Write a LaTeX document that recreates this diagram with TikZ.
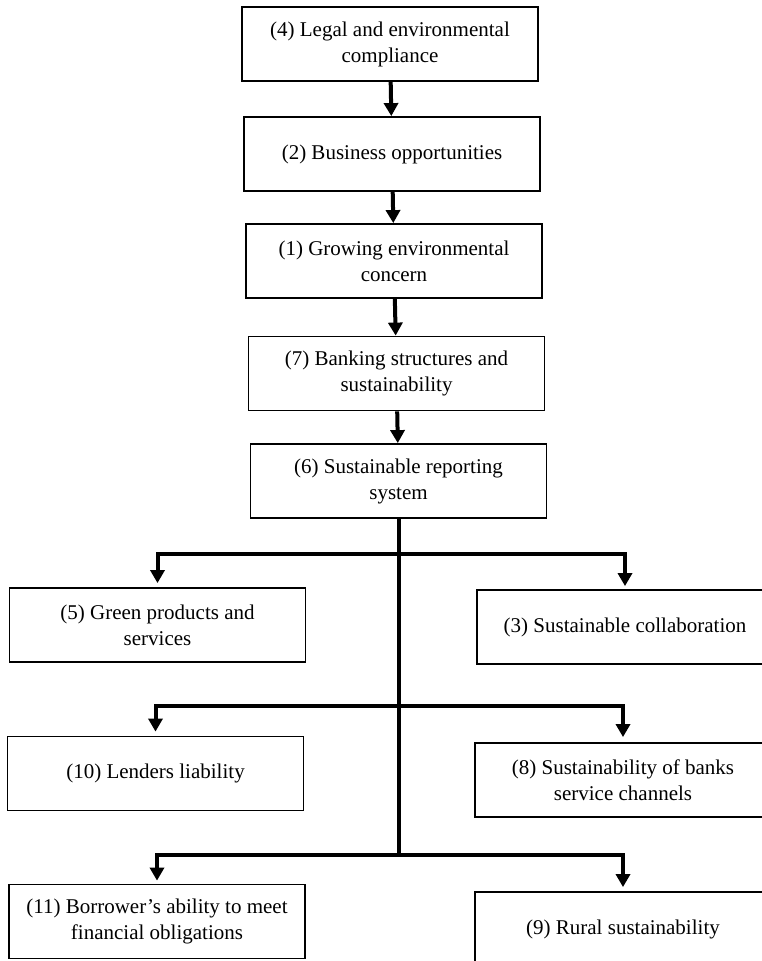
\documentclass[tikz,border=0pt]{standalone}
\usepackage{fontspec}
\setmainfont{Liberation Serif}
\usepackage{tikz}
\usetikzlibrary{arrows.meta, positioning, calc}

\begin{document}
\begin{tikzpicture}[x=1pt, y=-1pt,
        box/.style={draw=black, line width=1.8pt, minimum width=296pt, minimum height=74pt,
            inner sep=0pt, align=center, font=\fontsize{21}{26}\selectfont},
        flow/.style={line width=4pt, -{Triangle[width=14pt,length=13pt]}},
        trunk/.style={line width=4pt}]
    \useasboundingbox (0,0) rectangle (762,961);

    \node[box] (four)  at (390,44)    {(4) Legal and environmental\\compliance};
    \node[box] (two)   at (392,154)   {(2) Business opportunities};
    \node[box] (one)   at (394,261)   {(1) Growing environmental\\concern};
    \node[box] (seven) at (396.5,373.5) {(7) Banking structures and\\sustainability};
    \node[box] (six)   at (398.5,481) {(6) Sustainable reporting\\system};

    \node[box] (five)   at (157.5,625) {(5) Green products and\\services};
    \node[box] (three)  at (625,627)   {(3) Sustainable collaboration};
    \node[box] (ten)    at (155.5,773.5) {(10) Lenders liability};
    \node[box] (eight)  at (623,780)   {(8) Sustainability of banks\\service channels};
    \node[box] (eleven) at (157,921.5) {(11) Borrower’s ability to meet\\financial obligations};
    \node[box] (nine)   at (623,929)   {(9) Rural sustainability};

    \draw[flow] (four) -- (two);
    \draw[flow] (two) -- (one);
    \draw[flow] (one) -- (seven);
    \draw[flow] (seven) -- (six);

    % branches off the main trunk
    \coordinate (hubA) at ($(six.south)+(0,35)$);
    \coordinate (hubB) at ($(six.south)+(0,187)$);
    \coordinate (hubC) at ($(six.south)+(0,336)$);
    \draw[trunk] (six.south) -- (hubC);

    \draw[flow, shorten >=4pt] (hubA) -| (five.north);
    \draw[flow, shorten >=3pt] (hubA) -| (three.north);
    \draw[flow, shorten >=4pt] (hubB) -| (ten.north);
    \draw[flow, shorten >=5pt] (hubB) -| (eight.north);
    \draw[flow, shorten >=3pt] (hubC) -| (eleven.north);
    \draw[flow, shorten >=4pt] (hubC) -| (nine.north);
\end{tikzpicture}
\end{document}
